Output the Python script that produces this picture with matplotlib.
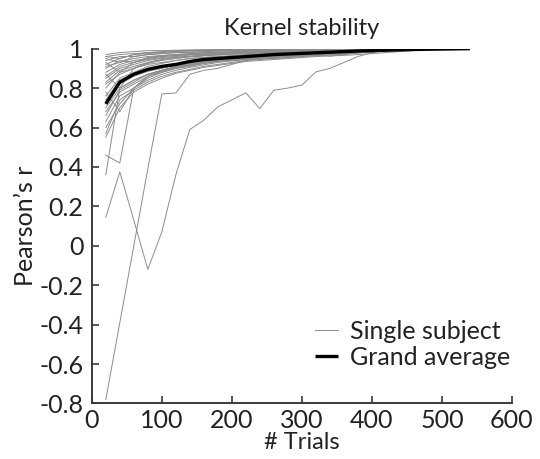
import matplotlib
matplotlib.use("Agg")
import matplotlib.pyplot as plt

plt.rcParams['font.family'] = ['Lato', 'DejaVu Sans']

# number of trials used for each kernel estimate
trials = [20, 40, 60, 80, 100, 120, 140, 160, 180, 200, 220, 240, 260, 280,
          300, 320, 340, 360, 380, 400, 420, 440, 460, 480, 500, 520, 540]

# single subjects (correlation with full-data kernel)
s01 = [0.97, 0.98, 0.985, 0.99, 0.99, 0.992, 0.994, 0.995, 0.996, 0.996, 0.997, 0.998, 0.998, 0.999, 0.999, 1.0]
s02 = [0.96, 0.95, 0.97, 0.98, 0.985, 0.99, 0.99, 0.992, 0.993, 0.995, 0.996, 0.997, 0.998, 0.998, 0.999, 0.999, 0.999, 1.0]
s03 = [0.96, 0.97, 0.975, 0.98, 0.982, 0.985, 0.988, 0.99, 0.991, 0.993, 0.994, 0.995, 0.996, 0.997, 0.998, 0.998, 0.999, 0.999, 1.0, 1.0]
s04 = [0.95, 0.93, 0.96, 0.97, 0.975, 0.98, 0.983, 0.985, 0.987, 0.99, 0.991, 0.992, 0.993, 0.995, 0.996, 0.997, 0.998, 0.998, 0.999, 0.999, 1.0]
s05 = [0.94, 0.96, 0.96, 0.97, 0.975, 0.98, 0.98, 0.985, 0.988, 0.99, 0.99, 0.992, 0.994, 0.995, 0.996, 0.997, 0.998, 0.999, 1.0]
s06 = [0.93, 0.88, 0.93, 0.95, 0.96, 0.965, 0.97, 0.975, 0.978, 0.98, 0.982, 0.985, 0.987, 0.99, 0.991, 0.993, 0.994, 0.995, 0.996, 0.997, 0.998, 0.999, 1.0]
s07 = [0.92, 0.95, 0.97, 0.975, 0.98, 0.985, 0.99, 0.99, 0.992, 0.994, 0.995, 0.996, 0.997, 0.998, 0.999, 1.0]
s08 = [0.91, 0.93, 0.95, 0.96, 0.965, 0.97, 0.975, 0.98, 0.982, 0.985, 0.987, 0.99, 0.991, 0.993, 0.995, 0.996, 0.997, 0.998, 0.999, 1.0]
s09 = [0.90, 0.94, 0.93, 0.955, 0.965, 0.97, 0.975, 0.978, 0.98, 0.983, 0.986, 0.988, 0.99, 0.992, 0.993, 0.995, 0.996, 0.997, 0.998, 0.999, 0.999, 1.0]
s10 = [0.88, 0.92, 0.94, 0.95, 0.96, 0.965, 0.97, 0.972, 0.975, 0.978, 0.98, 0.983, 0.985, 0.987, 0.99, 0.991, 0.993, 0.994, 0.995, 0.996, 0.997, 0.998, 0.999, 0.999, 1.0]
s11 = [0.87, 0.80, 0.90, 0.93, 0.945, 0.955, 0.96, 0.965, 0.97, 0.975, 0.978, 0.98, 0.982, 0.985, 0.987, 0.99, 0.992, 0.994, 0.995, 0.997, 0.998, 0.999, 1.0]
s12 = [0.86, 0.91, 0.93, 0.945, 0.955, 0.96, 0.968, 0.972, 0.976, 0.98, 0.983, 0.985, 0.988, 0.99, 0.992, 0.994, 0.995, 0.997, 0.998, 0.999, 1.0]
s13 = [0.85, 0.90, 0.92, 0.94, 0.95, 0.955, 0.96, 0.965, 0.968, 0.972, 0.975, 0.978, 0.98, 0.983, 0.985, 0.987, 0.99, 0.992, 0.994, 0.995, 0.997, 0.998, 0.999, 1.0]
s14 = [0.83, 0.89, 0.91, 0.93, 0.945, 0.955, 0.962, 0.968, 0.972, 0.975, 0.978, 0.98, 0.984, 0.987, 0.99, 0.992, 0.994, 0.996, 0.998, 1.0]
s15 = [0.82, 0.87, 0.90, 0.92, 0.93, 0.94, 0.95, 0.955, 0.96, 0.962, 0.965, 0.968, 0.97, 0.975, 0.978, 0.98, 0.983, 0.986, 0.988, 0.99, 0.992, 0.994, 0.996, 0.998, 0.999, 1.0]
s16 = [0.80, 0.88, 0.90, 0.925, 0.94, 0.95, 0.958, 0.963, 0.968, 0.972, 0.975, 0.98, 0.983, 0.986, 0.99, 0.992, 0.994, 0.996, 0.998, 1.0]
s17 = [0.78, 0.68, 0.80, 0.86, 0.89, 0.91, 0.925, 0.935, 0.94, 0.945, 0.95, 0.955, 0.96, 0.962, 0.965, 0.97, 0.975, 0.98, 0.985, 0.99, 0.994, 0.997, 1.0]
s18 = [0.76, 0.85, 0.88, 0.91, 0.925, 0.94, 0.95, 0.955, 0.96, 0.965, 0.97, 0.974, 0.978, 0.982, 0.985, 0.988, 0.99, 0.993, 0.995, 0.997, 0.999, 1.0]
s19 = [0.74, 0.84, 0.87, 0.89, 0.905, 0.92, 0.93, 0.94, 0.945, 0.95, 0.952, 0.955, 0.958, 0.962, 0.966, 0.97, 0.962, 0.97, 0.978, 0.985, 0.99, 0.995, 0.998, 1.0]
s20 = [0.72, 0.82, 0.86, 0.885, 0.90, 0.915, 0.93, 0.94, 0.948, 0.955, 0.96, 0.965, 0.97, 0.975, 0.98, 0.984, 0.988, 0.99, 0.993, 0.995, 0.997, 0.999, 1.0]
s21 = [0.70, 0.80, 0.84, 0.87, 0.89, 0.905, 0.92, 0.93, 0.94, 0.945, 0.95, 0.955, 0.96, 0.965, 0.97, 0.975, 0.98, 0.985, 0.99, 0.994, 0.997, 1.0]
s22 = [0.68, 0.78, 0.82, 0.86, 0.88, 0.90, 0.915, 0.925, 0.935, 0.94, 0.945, 0.948, 0.95, 0.955, 0.96, 0.965, 0.968, 0.972, 0.978, 0.984, 0.99, 0.995, 0.998, 1.0]
s23 = [0.66, 0.79, 0.83, 0.87, 0.89, 0.905, 0.918, 0.93, 0.94, 0.948, 0.955, 0.96, 0.966, 0.972, 0.978, 0.983, 0.988, 0.992, 0.996, 1.0]
s24 = [0.63, 0.76, 0.80, 0.84, 0.87, 0.89, 0.905, 0.918, 0.93, 0.938, 0.945, 0.95, 0.955, 0.96, 0.965, 0.97, 0.975, 0.98, 0.985, 0.99, 0.995, 0.998, 1.0]
s25 = [0.60, 0.72, 0.80, 0.85, 0.88, 0.90, 0.91, 0.925, 0.935, 0.945, 0.95, 0.955, 0.96, 0.965, 0.97, 0.975, 0.98, 0.986, 0.99, 0.995, 1.0]
s26 = [0.57, 0.74, 0.79, 0.83, 0.86, 0.88, 0.895, 0.91, 0.92, 0.93, 0.94, 0.945, 0.95, 0.955, 0.96, 0.965, 0.97, 0.975, 0.98, 0.985, 0.99, 0.994, 0.997, 1.0]
s27 = [0.55, 0.70, 0.78, 0.82, 0.85, 0.875, 0.89, 0.905, 0.915, 0.925, 0.935, 0.94, 0.945, 0.95, 0.955, 0.96, 0.963, 0.966, 0.97, 0.975, 0.98, 0.985, 0.99, 0.995, 1.0]
s28 = [0.36, 0.80, 0.84, 0.87, 0.89, 0.91, 0.925, 0.935, 0.945, 0.955, 0.96, 0.965, 0.97, 0.975, 0.98, 0.985, 0.99, 0.994, 0.997, 1.0]
s29 = [0.46, 0.42, 0.80, 0.86, 0.885, 0.90, 0.915, 0.93, 0.94, 0.948, 0.955, 0.96, 0.965, 0.97, 0.975, 0.98, 0.985, 0.99, 0.995, 1.0]
s30 = [-0.78, -0.39, 0.0, 0.39, 0.77, 0.775, 0.87, 0.89, 0.90, 0.92, 0.94, 0.95, 0.955, 0.96, 0.965, 0.97, 0.975, 0.98, 0.985, 0.99, 0.995, 1.0]
s31 = [0.145, 0.375, 0.13, -0.12, 0.07, 0.36, 0.59, 0.637, 0.705, 0.74, 0.776, 0.696, 0.789, 0.80, 0.815, 0.882, 0.90, 0.93, 0.96, 0.98, 0.99, 0.995, 1.0]

subjects = [s01, s02, s03, s04, s05, s06, s07, s08, s09, s10, s11, s12, s13, s14, s15, s16,
            s17, s18, s19, s20, s21, s22, s23, s24, s25, s26, s27, s28, s29, s30, s31]

grand_avg = [0.72, 0.83, 0.87, 0.895, 0.91, 0.92, 0.935, 0.945, 0.95, 0.955, 0.96, 0.965, 0.97,
             0.973, 0.976, 0.979, 0.982, 0.985, 0.988, 0.99, 0.992, 0.994, 0.996, 0.997, 0.998, 0.999, 1.0]

yticks = [-0.8, -0.6, -0.4, -0.2, 0, 0.2, 0.4, 0.6, 0.8, 1]
ytick_labels = ['-0.8', '-0.6', '-0.4', '-0.2', '0', '0.2', '0.4', '0.6', '0.8', '1']
xticks = [0, 100, 200, 300, 400, 500, 600]

txt = '#222222'
fig = plt.figure(figsize=(5.4, 4.59), dpi=100)
ax = fig.add_axes([0.170, 0.121, 0.778, 0.773])

for i, s in enumerate(subjects):
    ax.plot(trials[:len(s)], s, color='0.55', lw=0.7,
            label='Single subject' if i == 0 else None)
ax.plot(trials, grand_avg, color='black', lw=2.4, label='Grand average',
        solid_capstyle='butt')

ax.set_xlim(0, 600)
ax.set_ylim(-0.8, 1)
ax.set_xticks(xticks)
ax.set_yticks(yticks)
ax.set_yticklabels(ytick_labels)

for side in ['top', 'right']:
    ax.spines[side].set_visible(False)
for side in ['left', 'bottom']:
    ax.spines[side].set_color('#3a3a3a')
    ax.spines[side].set_linewidth(1.4)
ax.tick_params(direction='in', length=5, width=1.2, color='#3a3a3a',
               labelsize=18, labelcolor=txt)
ax.tick_params(axis='x', pad=4)
ax.tick_params(axis='y', pad=6)

ax.set_title('Kernel stability', fontsize=17, color=txt, pad=10)
ax.set_xlabel('# Trials', fontsize=17, color=txt, labelpad=0)
ax.set_ylabel('Pearson\u2019s r', fontsize=18, color=txt, labelpad=2)

ax.legend(loc='lower right', bbox_to_anchor=(1.05, 0.035), frameon=False,
          fontsize=18, handlelength=0.9, handletextpad=0.5, labelspacing=0.1,
          labelcolor=txt)

fig.savefig('out.png', dpi=100)
